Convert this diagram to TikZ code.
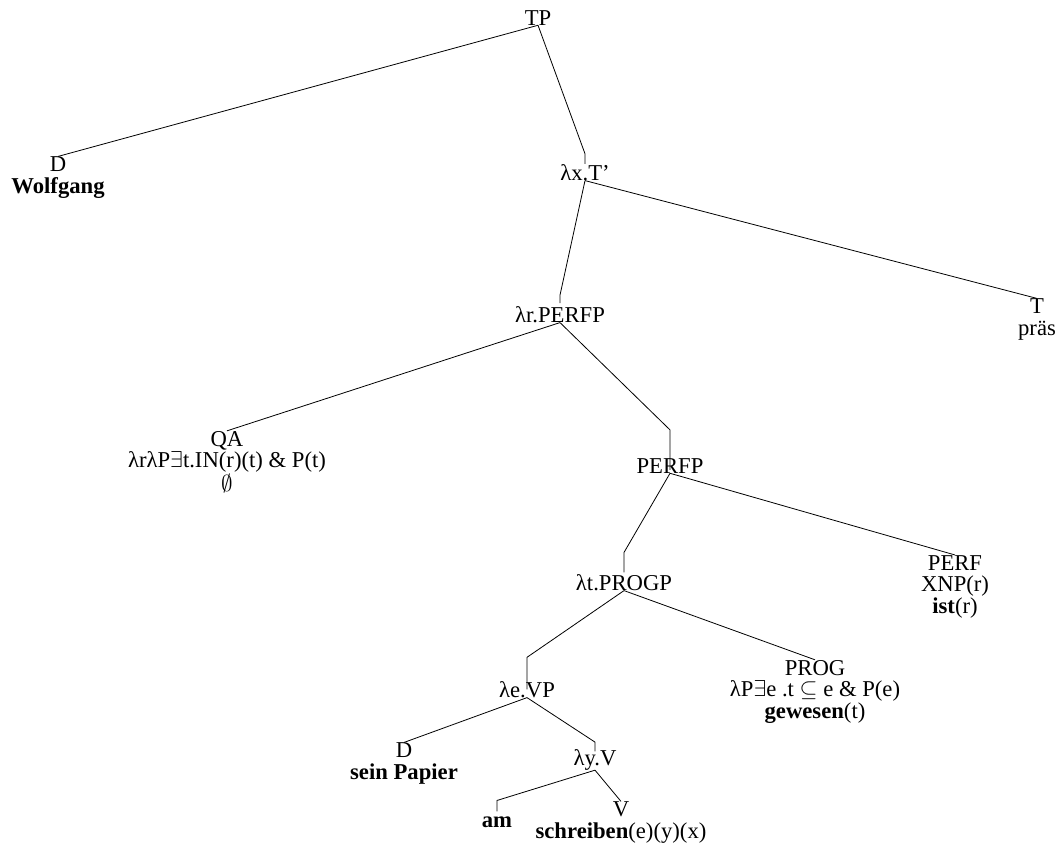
\documentclass[tikz,border=0pt]{standalone}
\usepackage{fontspec}
\setmainfont{Liberation Serif}
\usepackage{tikz}
\usetikzlibrary{positioning}

\begin{document}
\begin{tikzpicture}[x=0.75pt, y=-0.75pt,
    every node/.style = {inner sep=0pt, anchor=base, align=center,
      font=\fontsize{17}{16.1}\selectfont},
    edge/.style = {draw, line width=0.6pt}
    ]
    \useasboundingbox (0,0) rectangle (1055,843);

    % multi-line nodes sit on the baseline of their last line
    \node (tp)   at (538,25)  {TP};
    \node (d1)   at (58,193)  {D\\\textbf{Wolfgang}};
    \node (xt)   at (585,180) {λx.T’};
    \node (t)    at (1037,335) {T\\präs};
    \node (rp)   at (560,322) {λr.PERFP};
    \node (qa)   at (227,491) {QA\\λrλP$\exists$t.IN(r)(t) \& P(t)\\$\emptyset$};
    \node (pp)   at (670,473) {PERFP};
    \node (perf) at (955,613) {PERF\\XNP(r)\\\textbf{ist}(r)};
    \node (pg)   at (624,590) {λt.PROGP};
    \node (prog) at (815,718) {PROG\\λP$\exists$e .t $\subseteq$ e \& P(e)\\\textbf{gewesen}(t)};
    \node (vp)   at (527,697) {λe.VP};
    \node (d2)   at (404,779) {D\\\textbf{sein Papier}};
    \node (yv)   at (595,765) {λy.V};
    \node (am)   at (497,827) {\textbf{am}};
    \node (v)    at (621,838) {V\\\textbf{schreiben}(e)(y)(x)};

    % branches
    \draw[edge] (tp.south) -- (d1.north);
    \draw[edge] (tp.south) -- ([yshift=7.5pt]xt.north) -- (xt.north);
    \draw[edge] (xt.south) -- ([yshift=8pt]rp.north) -- ([yshift=2pt]rp.north);
    \draw[edge] (xt.south) -- (t.north);
    \draw[edge] (rp.south) -- (qa.north);
    \draw[edge] (rp.south) -- ([yshift=21pt]pp.north) -- ([yshift=-9pt]pp.north);
    \draw[edge] (pp.south) -- ([yshift=16pt]pg.north) -- ([yshift=1pt]pg.north);
    \draw[edge] (pp.south) -- (perf.north);
    \draw[edge] (pg.south) -- ([yshift=17.6pt]vp.north) -- ([yshift=-6.4pt]vp.north);
    \draw[edge] (pg.south) -- (prog.north);
    \draw[edge] (vp.south) -- (d2.north);
    \draw[edge] (vp.south) -- ([yshift=5pt]yv.north) -- ([yshift=-2pt]yv.north);
    \draw[edge] (yv.south) -- ([yshift=11.7pt]am.north) -- ([yshift=3.5pt]am.north);
    \draw[edge] (yv.south) -- (v.north);
\end{tikzpicture}
\end{document}
